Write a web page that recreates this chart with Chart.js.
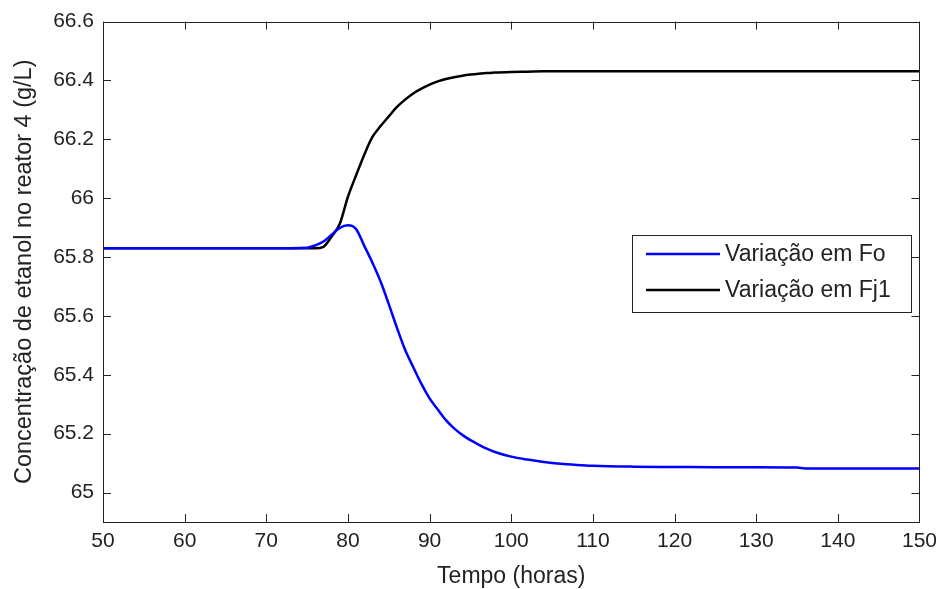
<!DOCTYPE html>
<html>
<head>
<title>Concentração de etanol no reator 4</title>
<script src="https://cdn.jsdelivr.net/npm/chart.js"></script>
<style>
 body { margin: 0; background: #fff; }
 #wrap { width: 944px; height: 589px; }
</style>
</head>
<body>
<div id="wrap"><canvas id="chart" width="944" height="589"></canvas></div>
<script>
 // time (horas)
 const tempo = [50, 60, 70, 75, 76, 77, 78, 79, 80, 81, 82, 83, 84, 85, 86, 87, 88, 89, 90,
  91, 92, 93, 94, 95, 96, 97, 98, 100, 102, 104, 106, 108, 110, 115, 120, 125, 130, 135, 136, 140, 145, 150];

 // Variação em Fo (blue)
 const concFo = [65.83, 65.83, 65.83, 65.832, 65.84, 65.853, 65.876, 65.899, 65.908, 65.895, 65.838, 65.781, 65.717, 65.64, 65.56, 65.485, 65.426, 65.369, 65.32,
  65.282, 65.246, 65.218, 65.196, 65.178, 65.163, 65.149, 65.138, 65.122, 65.112, 65.104, 65.098, 65.094, 65.091, 65.088, 65.087, 65.086, 65.086, 65.085, 65.082, 65.082, 65.082, 65.082];

 // Variação em Fj1 (black)
 const concFj1 = [65.83, 65.83, 65.83, 65.83, 65.83, 65.835, 65.87, 65.913, 66.005, 66.078, 66.148, 66.208, 66.245, 66.278, 66.31, 66.335, 66.356, 66.372, 66.386,
  66.397, 66.405, 66.411, 66.416, 66.42, 66.423, 66.425, 66.427, 66.429, 66.43, 66.431, 66.431, 66.431, 66.431, 66.431, 66.431, 66.431, 66.431, 66.431, 66.431, 66.431, 66.431, 66.431];

 const seriesNames = ['Variação em Fo', 'Variação em Fj1'];
 const seriesColors = ['#0000ff', '#000000'];

 const xTicks = [50, 60, 70, 80, 90, 100, 110, 120, 130, 140, 150];
 const yTicks = [65, 65.2, 65.4, 65.6, 65.8, 66, 66.2, 66.4, 66.6];

 const FONT = '"Liberation Sans", Arial, sans-serif';
 const AXIS = '#222';

 function toPoints(xs, ys) {
  return xs.map((x, i) => ({ x: x, y: ys[i] }));
 }

 // box around the plot + inward ticks on all four sides (matlab look)
 const boxPlugin = {
  id: 'box',
  afterDatasetsDraw(chart) {
   const { ctx, chartArea: a, scales } = chart;
   const L = 8;
   ctx.save();
   ctx.strokeStyle = AXIS;
   ctx.lineWidth = 1;
   ctx.beginPath();
   xTicks.forEach(v => {
    const px = Math.round(scales.x.getPixelForValue(v)) + 0.5;
    ctx.moveTo(px, a.bottom); ctx.lineTo(px, a.bottom - L);
    ctx.moveTo(px, a.top); ctx.lineTo(px, a.top + L);
   });
   yTicks.forEach(v => {
    const py = Math.round(scales.y.getPixelForValue(v)) + 0.5;
    ctx.moveTo(a.left, py); ctx.lineTo(a.left + L, py);
    ctx.moveTo(a.right, py); ctx.lineTo(a.right - L, py);
   });
   ctx.stroke();
   ctx.strokeRect(Math.round(a.left) + 0.5, Math.round(a.top) + 0.5,
    Math.round(a.right - a.left), Math.round(a.bottom - a.top));
   ctx.restore();
  }
 };

 // legend box inside the plot area
 const legendPlugin = {
  id: 'innerLegend',
  afterDraw(chart) {
   const ctx = chart.ctx;
   const x0 = 632, y0 = 235, w = 279, h = 77;
   ctx.save();
   ctx.fillStyle = '#fff';
   ctx.fillRect(x0, y0, w, h);
   ctx.strokeStyle = AXIS;
   ctx.lineWidth = 1;
   ctx.strokeRect(x0 + 0.5, y0 + 0.5, w, h);
   ctx.font = '23px ' + FONT;
   ctx.textBaseline = 'middle';
   chart.data.datasets.forEach((ds, i) => {
    const yy = y0 + 19 + i * 36;
    ctx.strokeStyle = ds.borderColor;
    ctx.lineWidth = 2.5;
    ctx.beginPath();
    ctx.moveTo(x0 + 14, yy);
    ctx.lineTo(x0 + 88, yy);
    ctx.stroke();
    ctx.fillStyle = AXIS;
    ctx.fillText(ds.label, x0 + 93, yy + 1);
   });
   ctx.restore();
  }
 };

 const ctx = document.getElementById('chart').getContext('2d');
 const chart = new Chart(ctx, {
  type: 'line',
  data: {
   datasets: [
    { label: seriesNames[0], data: toPoints(tempo, concFo), borderColor: seriesColors[0], borderWidth: 2.5,
      pointRadius: 0, cubicInterpolationMode: 'monotone', fill: false },
    { label: seriesNames[1], data: toPoints(tempo, concFj1), borderColor: seriesColors[1], borderWidth: 2.5,
      pointRadius: 0, cubicInterpolationMode: 'monotone', fill: false }
   ]
  },
  options: {
   responsive: false,
   animation: false,
   layout: { padding: { top: 21, right: 23, left: 0, bottom: 0 } },
   plugins: { legend: { display: false }, tooltip: { enabled: false } },
   scales: {
    x: {
     type: 'linear',
     min: 50, max: 150,
     afterBuildTicks: s => { s.ticks = xTicks.map(v => ({ value: v })); },
     afterFit: s => { s.height = 67; },
     grid: { display: false, drawTicks: false },
     border: { display: false },
     ticks: { padding: 7, color: AXIS, font: { family: FONT, size: 21 }, maxRotation: 0,
              callback: v => String(v) },
     title: { display: true, text: 'Tempo (horas)', color: AXIS,
              font: { family: FONT, size: 23, lineHeight: 1 }, padding: { top: 0, bottom: 1 } }
    },
    y: {
     min: 64.9, max: 66.6,
     afterBuildTicks: s => { s.ticks = yTicks.map(v => ({ value: v })); },
     afterFit: s => { s.width = 103; },
     grid: { display: false, drawTicks: false },
     border: { display: false },
     ticks: { padding: 9, color: AXIS, font: { family: FONT, size: 21 },
              callback: v => String(Math.round(v * 10) / 10) },
     title: { display: true, text: 'Concentração de etanol no reator 4 (g/L)', color: AXIS,
              font: { family: FONT, size: 23.5, lineHeight: 1 }, padding: { top: 13, bottom: 0 } }
    }
   }
  },
  plugins: [boxPlugin, legendPlugin]
 });
</script>
</body>
</html>
